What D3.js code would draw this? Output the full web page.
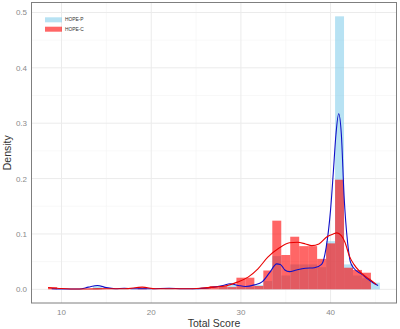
<!DOCTYPE html>
<html>
<head>
<meta charset="utf-8">
<script src="https://cdn.jsdelivr.net/npm/d3@7"></script>
<style>
  body { margin: 0; background: #fff; }
  text { font-family: "Liberation Sans", Arial, sans-serif; }
</style>
</head>
<body>
<div id="chart"></div>
<script>
// histogram bins (centre of 1-point bin) and densities
var binsP = [14, 17, 22, 25, 28, 29, 30, 31, 32, 33, 34, 35, 36, 37, 38, 39, 40, 41, 42, 43, 44, 45];
var densP = [0.006, 0.002, 0.002, 0.002, 0.004, 0.008, 0.004, 0.004, 0.008, 0.015, 0.06, 0.025, 0.045, 0.045, 0.045, 0.04, 0.087, 0.493, 0.045, 0.025, 0.02, 0.012];

var binsC = [9, 19, 26, 27, 28, 29, 30, 31, 32, 33, 34, 35, 36, 37, 38, 39, 40, 41, 42, 43, 44];
var densC = [0.004, 0.003, 0.003, 0.006, 0.006, 0.004, 0.021, 0.021, 0.006, 0.034, 0.124, 0.062, 0.095, 0.078, 0.078, 0.055, 0.083, 0.198, 0.039, 0.035, 0.03];

// density curves
var curveP = [[8.9,0.001],[10,0.0005],[12,0.0005],[13,0.004],[14,0.007],[15,0.003],[16,0.001],[17,0.002],[18,0.001],[20,0.001],[22,0.002],[23.5,0.001],[25,0.001],[26.5,0.003],[28,0.007],[28.8,0.01],[29.7,0.007],[30.5,0.005],[31.5,0.008],[32.4,0.014],[33.2,0.03],[34.0,0.046],[34.4,0.045],[34.9,0.035],[35.4,0.032],[36.2,0.035],[37.2,0.038],[38.2,0.039],[39.0,0.045],[39.5,0.075],[40.0,0.144],[40.3,0.21],[40.6,0.28],[40.9,0.317],[41.2,0.28],[41.5,0.17],[41.9,0.084],[42.2,0.05],[42.6,0.038],[43.5,0.027],[44.2,0.018],[45.0,0.009],[45.3,0.007]];
var curveC = [[8.5,0.003],[9.5,0.002],[11,0.0005],[13,0.0005],[15,0.001],[17,0.001],[19,0.004],[20.5,0.001],[22,0.001],[24,0.001],[25.5,0.002],[27,0.004],[28.5,0.007],[29.6,0.013],[30.8,0.022],[31.9,0.037],[33,0.058],[34.3,0.075],[35.4,0.084],[36.3,0.085],[37.2,0.082],[37.9,0.079],[38.7,0.082],[39.6,0.095],[40.3,0.1],[40.7,0.102],[41.2,0.097],[41.6,0.085],[42.1,0.06],[42.6,0.045],[43.2,0.033],[44,0.022],[44.6,0.015],[45.1,0.009]];

var xTicks = [10, 20, 30, 40];
var xMinor = [15, 25, 35, 45];
var yTicks = [0, 0.1, 0.2, 0.3, 0.4, 0.5];
var yMinor = [0.05, 0.15, 0.25, 0.35, 0.45];
var seriesNames = ["HOPE-P", "HOPE-C"];

var W = 400, H = 329;
var pL = 31.5, pR = 396.5, pT = 2.5, pB = 303;

var svg = d3.select("#chart").append("svg")
  .attr("width", W).attr("height", H);

var x = d3.scaleLinear().domain([6.65, 47.35]).range([pL, pR]);
var y = d3.scaleLinear().domain([-0.0247, 0.518]).range([pB, pT]);

// grid
var grid = svg.append("g");
grid.selectAll(".xmin").data(xMinor).enter().append("line")
  .attr("x1", d => x(d)).attr("x2", d => x(d)).attr("y1", pT).attr("y2", pB)
  .attr("stroke", "#f3f3f3").attr("stroke-width", 0.6);
grid.selectAll(".ymin").data(yMinor).enter().append("line")
  .attr("y1", d => y(d)).attr("y2", d => y(d)).attr("x1", pL).attr("x2", pR)
  .attr("stroke", "#f3f3f3").attr("stroke-width", 0.6);
grid.selectAll(".xmaj").data(xTicks).enter().append("line")
  .attr("x1", d => x(d)).attr("x2", d => x(d)).attr("y1", pT).attr("y2", pB)
  .attr("stroke", "#ebebeb").attr("stroke-width", 1);
grid.selectAll(".ymaj").data(yTicks).enter().append("line")
  .attr("y1", d => y(d)).attr("y2", d => y(d)).attr("x1", pL).attr("x2", pR)
  .attr("stroke", "#ebebeb").attr("stroke-width", 1);

// histograms
svg.append("g").selectAll("rect").data(binsP).enter().append("rect")
  .attr("x", d => x(d - 0.5)).attr("width", d => x(d + 0.5) - x(d - 0.5))
  .attr("y", (d, i) => y(densP[i])).attr("height", (d, i) => y(0) - y(densP[i]))
  .attr("fill", "skyblue").attr("fill-opacity", 0.6);
svg.append("g").selectAll("rect").data(binsC).enter().append("rect")
  .attr("x", d => x(d - 0.5)).attr("width", d => x(d + 0.5) - x(d - 0.5))
  .attr("y", (d, i) => y(densC[i])).attr("height", (d, i) => y(0) - y(densC[i]))
  .attr("fill", "red").attr("fill-opacity", 0.6);

// density lines
var line = d3.line().x(d => x(d[0])).y(d => y(d[1])).curve(d3.curveMonotoneX);
svg.append("path").datum(curveP).attr("d", line)
  .attr("fill", "none").attr("stroke", "#1010c8").attr("stroke-width", 1.1);
svg.append("path").datum(curveC).attr("d", line)
  .attr("fill", "none").attr("stroke", "#e80000").attr("stroke-width", 1.1);

// panel border
svg.append("rect").attr("x", pL).attr("y", pT)
  .attr("width", pR - pL).attr("height", pB - pT)
  .attr("fill", "none").attr("stroke", "#7f7f7f").attr("stroke-width", 1);

// tick labels
svg.append("g").selectAll("text").data(xTicks).enter().append("text")
  .attr("x", d => x(d)).attr("y", 314.5).attr("text-anchor", "middle")
  .attr("font-size", 8).attr("fill", "#8a8a8a").text(d => d);
svg.append("g").selectAll("text").data(yTicks).enter().append("text")
  .attr("x", 27).attr("y", d => y(d) + 3).attr("text-anchor", "end")
  .attr("font-size", 8).attr("fill", "#8a8a8a").text(d => d.toFixed(1));

// axis titles
svg.append("text").attr("x", (pL + pR) / 2).attr("y", 326.5)
  .attr("text-anchor", "middle").attr("font-size", 10.5).attr("fill", "#333")
  .text("Total Score");
svg.append("text").attr("transform", "translate(11," + ((pT + pB) / 2) + ") rotate(-90)")
  .attr("text-anchor", "middle").attr("font-size", 10.5).attr("fill", "#333")
  .text("Density");

// legend
var legColors = ["skyblue", "red"];
var leg = svg.append("g").selectAll("g").data(seriesNames).enter().append("g")
  .attr("transform", (d, i) => "translate(45," + (17.3 + i * 9.4) + ")");
leg.append("rect").attr("width", 17).attr("height", 5)
  .attr("fill", (d, i) => legColors[i]).attr("fill-opacity", 0.6);
leg.append("text").attr("x", 20).attr("y", 4.2).attr("font-size", 4.8)
  .attr("fill", "#333").text(d => d);
</script>
</body>
</html>
